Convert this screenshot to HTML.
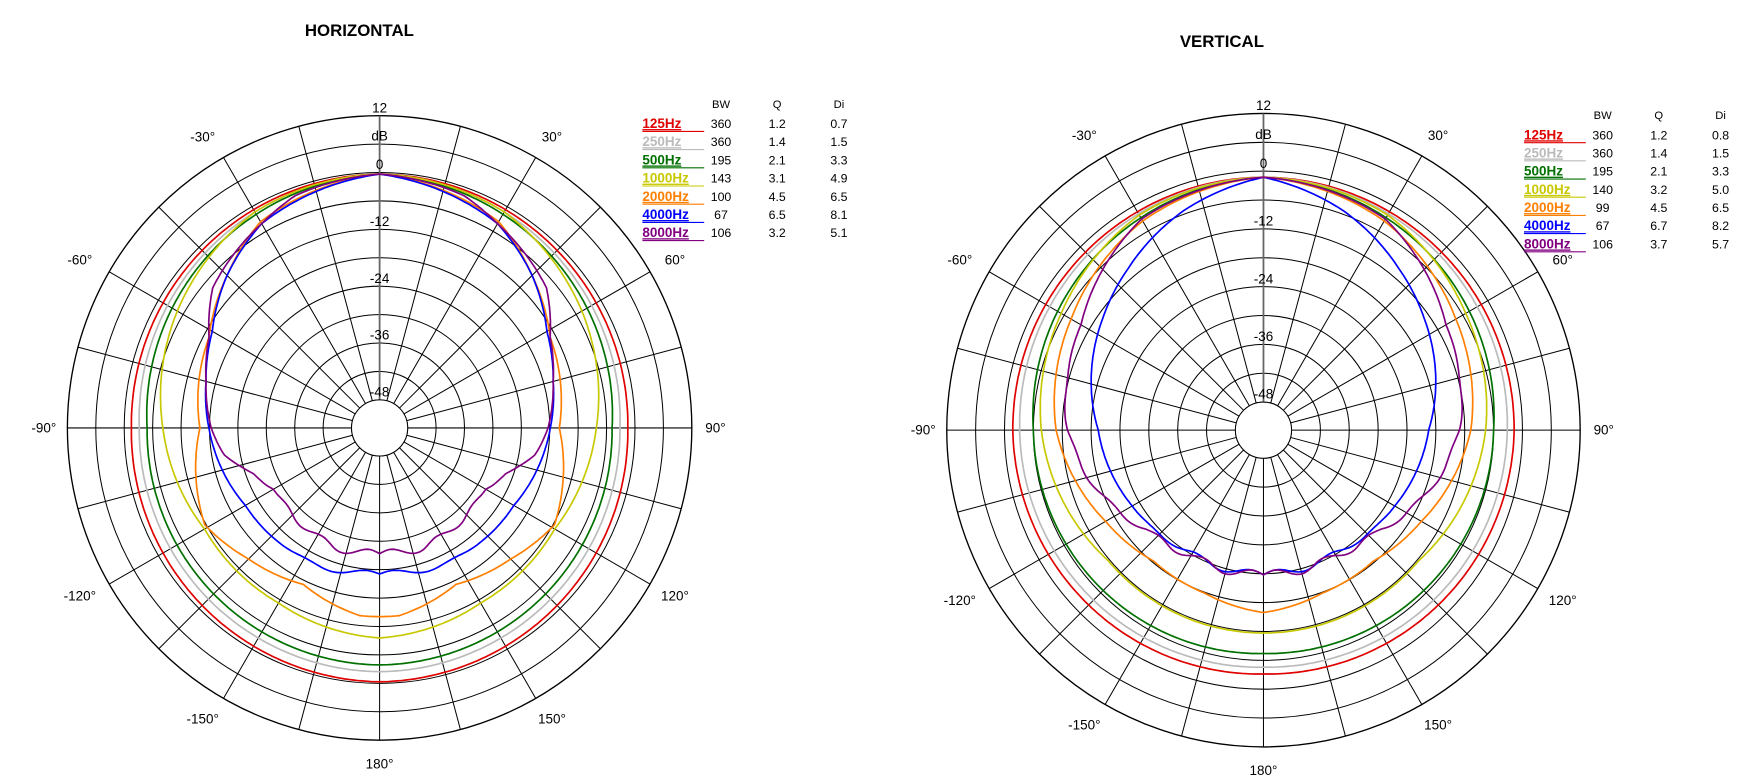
<!DOCTYPE html>
<html><head><meta charset="utf-8"><style>
html,body{margin:0;padding:0;background:#fff;}
svg{display:block;font-family:"Liberation Sans",sans-serif;}
</style></head><body>
<svg id="s" width="1761" height="775" viewBox="0 0 1568 690" preserveAspectRatio="none" xmlns="http://www.w3.org/2000/svg">
<text x="320" y="32" font-size="15" font-weight="bold" text-anchor="middle">HORIZONTAL</text>
<text x="1088" y="42" font-size="15" font-weight="bold" text-anchor="middle">VERTICAL</text>
</svg>
<script>
const S=document.getElementById('s');const NS='http://www.w3.org/2000/svg';
function el(t,a,txt){const e=document.createElementNS(NS,t);for(const k in a)e.setAttribute(k,a[k]);if(txt!==undefined)e.textContent=txt;S.appendChild(e);return e;}
function interp(pts,a){a=Math.abs(a);if(a>180)a=360-a;for(let i=0;i<pts.length-1;i++){if(a>=pts[i][0]&&a<=pts[i+1][0]){const t=(a-pts[i][0])/(pts[i+1][0]-pts[i][0]);return pts[i][1]+t*(pts[i+1][1]-pts[i][1]);}}return pts[pts.length-1][1];}
function chart(cx,cy,R,hole,curves,legend){
 for(let i=0;i<=10;i++){const r=hole+(R-hole)*i/10;el('circle',{cx,cy,r,fill:'none',stroke:'#000','stroke-width':i==10?1.2:0.9});}
 for(let d=0;d<360;d+=15){const a=d*Math.PI/180;el('line',{x1:cx+hole*Math.sin(a),y1:cy-hole*Math.cos(a),x2:cx+R*Math.sin(a),y2:cy-R*Math.cos(a),stroke:d==0?'#666':'#000','stroke-width':d==0?1.6:0.9});}
 el('circle',{cx,cy,r:hole,fill:'#fff',stroke:'#000','stroke-width':0.9});
 const step=(R-hole)/10;
 const labs=[['12',10],['dB',9],['0',8],['-12',6],['-24',4],['-36',2],['-48',0]];
 labs.forEach(([t,i])=>{const r=hole+step*i;el('text',{x:cx,y:cy-r-3,'font-size':12,'text-anchor':'middle'},t);});
 [[30,'30°'],[60,'60°'],[90,'90°'],[120,'120°'],[150,'150°'],[180,'180°'],[-30,'-30°'],[-60,'-60°'],[-90,'-90°'],[-120,'-120°'],[-150,'-150°']].forEach(([d,t])=>{const a=d*Math.PI/180;const rr=R+21;let x=cx+rr*Math.sin(a);if(d<0&&d>-180&&Math.abs(d)!=90)x-=8;if(d>0&&d<180&&d!=90)x+=4;el('text',{x,y:cy-rr*Math.cos(a)+4,'font-size':12,'text-anchor':'middle'},t);});
 curves.forEach(c=>{let p='';for(let d=0;d<=360;d+=1){let r=interp(c.pts,d>180?d-360:d);if(c.w){const ad=Math.abs(d>180?d-360:d);if(ad>c.w[0])r+=c.w[1]*Math.sin(ad*c.w[2]*Math.PI/180)*((ad-c.w[0])/(180-c.w[0]));}r*=R/278;const a=d*Math.PI/180;p+=(d?'L':'M')+(cx+r*Math.sin(a)).toFixed(1)+','+(cy-r*Math.cos(a)).toFixed(1);}el('path',{d:p+'Z',fill:'none',stroke:c.col,'stroke-width':1.5});});
 const L=legend;el('text',{x:L.x+70,y:L.y,'font-size':10,'text-anchor':'middle'},'BW');el('text',{x:L.x+120,y:L.y,'font-size':10,'text-anchor':'middle'},'Q');el('text',{x:L.x+175,y:L.y,'font-size':10,'text-anchor':'middle'},'Di');
 L.rows.forEach((r,i)=>{const y=L.y+18+i*16.2;el('text',{x:L.x,y,'font-size':12,'font-weight':'bold',fill:r[0],'text-decoration':'underline'},r[1]);el('line',{x1:L.x,y1:y+3,x2:L.x+55,y2:y+3,stroke:r[0],'stroke-width':1});el('text',{x:L.x+70,y,'font-size':11,'text-anchor':'middle'},r[2]);el('text',{x:L.x+120,y,'font-size':11,'text-anchor':'middle'},r[3]);el('text',{x:L.x+175,y,'font-size':11,'text-anchor':'middle'},r[4]);});
}
const H=[
 {col:'#e00000',pts:[[0,226],[90,221],[180,226]]},
 {col:'#bbbbbb',pts:[[0,226],[90,214],[180,217]]},
 {col:'#007000',pts:[[0,226],[90,207],[180,211]]},
 {col:'#c8c800',pts:[[0,226],[30,222],[60,208],[90,193],[120,180],[150,180],[180,187]]},
 {col:'#ff7f00',pts:[[0,226],[30,212],[45,192],[62,172],[90,160],[119,178],[135,165],[154,155],[174,168],[180,168]]},
 {col:'#0000ff',pts:[[0,226],[30,210],[45,192],[60,172],[75,160],[90,152],[120,138],[145,135],[180,130]],w:[140,4,14]},
 {col:'#800080',pts:[[0,226],[20,220],[30,210],[50,194],[62,172],[75,160],[90,150],[100,140],[110,120],[120,108],[140,110],[160,113],[180,112]],w:[90,4,16]}
];
const V=[
 {col:'#e00000',pts:[[0,222],[90,220],[180,214]]},
 {col:'#bbbbbb',pts:[[0,222],[90,214],[180,208]]},
 {col:'#007000',pts:[[0,222],[90,202],[180,196]]},
 {col:'#c8c800',pts:[[0,222],[30,218],[60,205],[90,195],[130,178],[160,178],[180,178]]},
 {col:'#ff7f00',pts:[[0,222],[30,212],[60,195],[90,182],[120,160],[140,150],[160,152],[180,160]]},
 {col:'#0000ff',pts:[[0,222],[20,205],[40,185],[55,172],[90,145],[120,133],[150,125],[180,127]],w:[120,4,16]},
 {col:'#800080',pts:[[0,222],[30,214],[60,185],[90,172],[110,155],[130,135],[150,127],[180,127]],w:[60,4,18]}
];
chart(338,381,278,25,H,{x:572,y:96,rows:[['#e00000','125Hz','360','1.2','0.7'],['#bbbbbb','250Hz','360','1.4','1.5'],['#007000','500Hz','195','2.1','3.3'],['#c8c800','1000Hz','143','3.1','4.9'],['#ff7f00','2000Hz','100','4.5','6.5'],['#0000ff','4000Hz','67','6.5','8.1'],['#800080','8000Hz','106','3.2','5.1']]});
chart(1125,383,282,25,V,{x:1357,y:106,rows:[['#e00000','125Hz','360','1.2','0.8'],['#bbbbbb','250Hz','360','1.4','1.5'],['#007000','500Hz','195','2.1','3.3'],['#c8c800','1000Hz','140','3.2','5.0'],['#ff7f00','2000Hz','99','4.5','6.5'],['#0000ff','4000Hz','67','6.7','8.2'],['#800080','8000Hz','106','3.7','5.7']]});
</script>
</body></html>
